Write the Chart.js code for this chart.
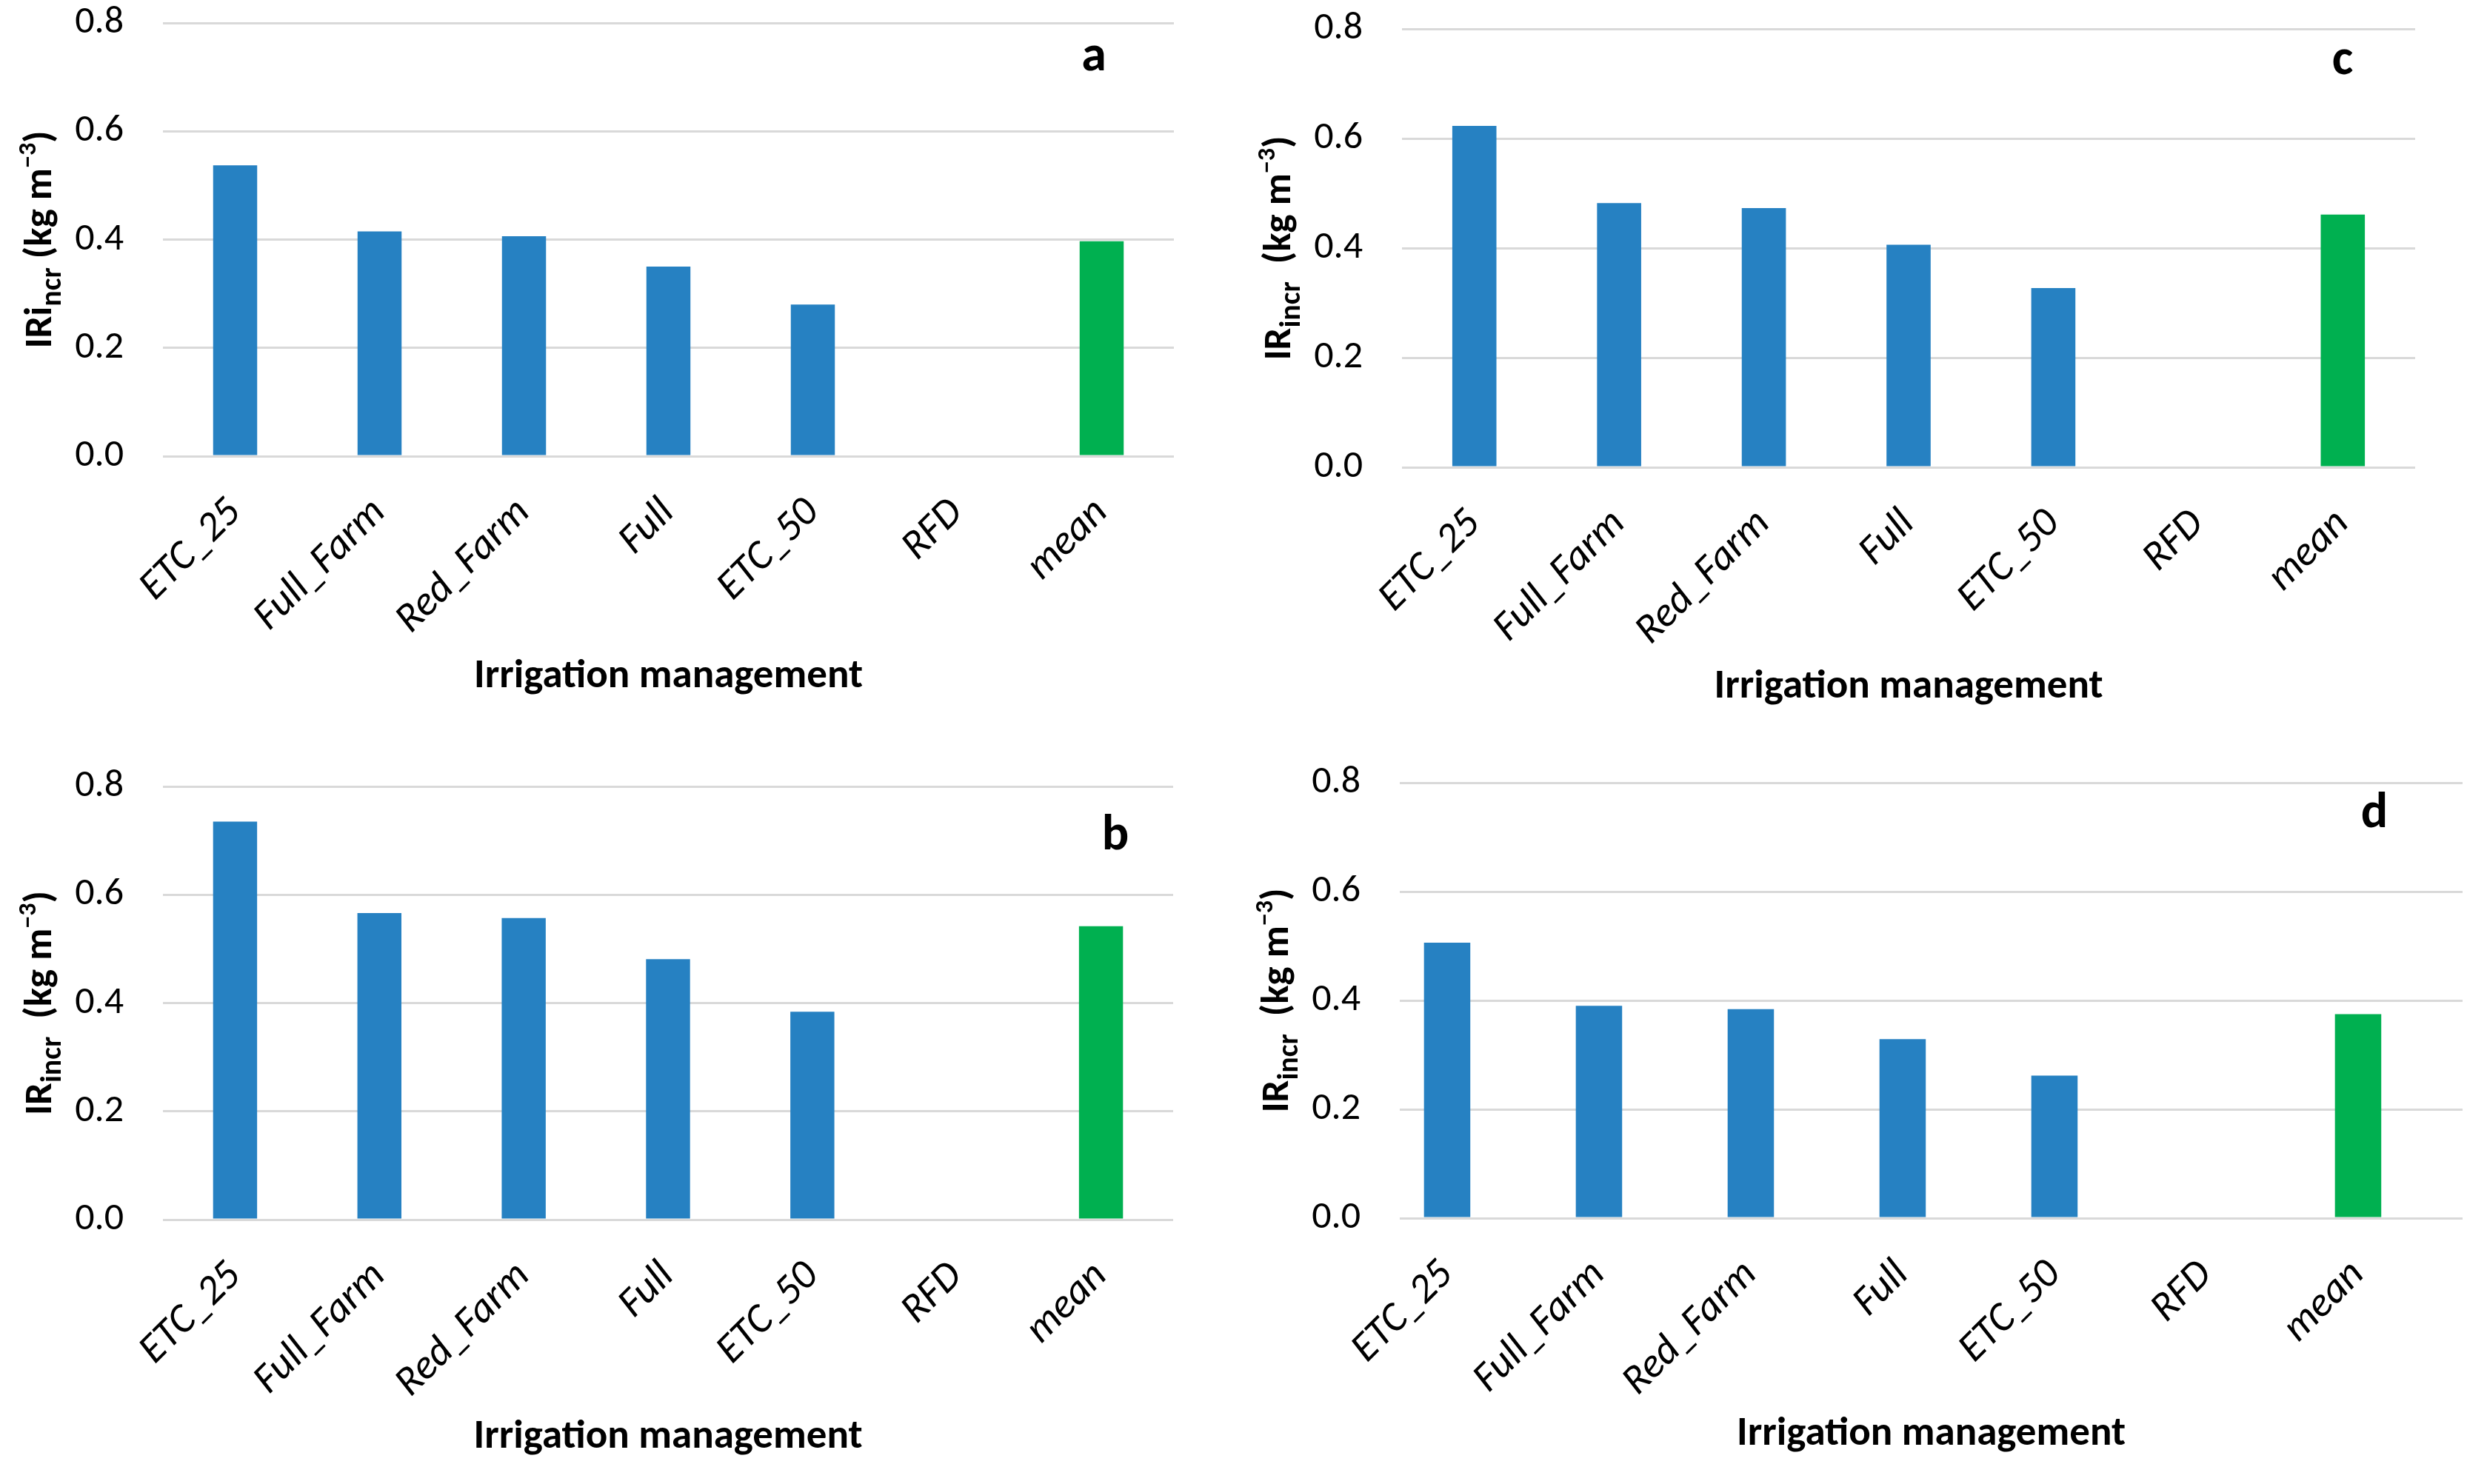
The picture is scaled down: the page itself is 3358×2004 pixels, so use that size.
<!DOCTYPE html>
<html>
<head>
<meta charset="utf-8">
<script src="https://cdn.jsdelivr.net/npm/chart.js@4.4.1/dist/chart.umd.min.js"></script>
<style>
body{margin:0;background:#fff;width:3358px;height:2004px;position:relative;overflow:hidden}
.panel{position:absolute}
</style>
</head>
<body>
<div class="panel" id="box_a"><canvas id="chart_a"></canvas></div>
<div class="panel" id="box_b"><canvas id="chart_b"></canvas></div>
<div class="panel" id="box_c"><canvas id="chart_c"></canvas></div>
<div class="panel" id="box_d"><canvas id="chart_d"></canvas></div>
<script>
// data
const categories = ["ETC_25","Full_Farm","Red_Farm","Full","ETC_50","RFD","mean"]
const valuesA = [0.537,0.415,0.406,0.350,0.280,0,0.397]
const valuesB = [0.735,0.566,0.557,0.481,0.384,0,0.542]
const valuesC = [0.623,0.482,0.473,0.406,0.327,0,0.461]
const valuesD = [0.506,0.390,0.384,0.329,0.262,0,0.375]
const yMin = 0
const yMax = 0.8
const yStep = 0.2
const xTitle = "Irrigation management"

const BLUE = "#2681c2"
const GREEN = "#00b050"
const barColors = categories.map(c => c === "mean" ? GREEN : BLUE)

const FONT = "Carlito, 'Liberation Sans Narrow', 'Open Sans', sans-serif"
const FS = 52

// y title pieces: [text, kind]
const yTitleA = [["IRi","n"],["ncr","sub"],[" (kg m","n"],["\u22123","sup"],[")","n"]]
const yTitleB = [["IR","n"],["incr","sub"],["  (kg m","n"],["\u22123","sup"],[")","n"]]

// panel placement (chart area in page pixels); shift moves the category window
const panels = [
  {key:"a", values:valuesA, yTitle:yTitleA, L:220, T:31, R:1585, B:616, shift:0, titleOff:298, letterDx:-108, letterBase:64},
  {key:"c", values:valuesC, yTitle:yTitleB, L:1893, T:39, R:3261, B:631, shift:0, titleOff:297, letterDx:-98, letterBase:61},
  {key:"b", values:valuesB, yTitle:yTitleB, L:220, T:1062, R:1584, B:1647, shift:0, titleOff:294, letterDx:-78, letterBase:85},
  {key:"d", values:valuesD, yTitle:yTitleB, L:1890, T:1057, R:3325, B:1645, shift:0.188, titleOff:292, letterDx:-119, letterBase:60}
]

const TOP_PAD = 40
const X_H = 340

const extras = {
  id:"extras",
  afterDraw(chart, args, opts){
    const ctx = chart.ctx
    const area = chart.chartArea
    ctx.save()
    // y axis title with sub / superscript
    ctx.translate(area.left - 164, (area.top + area.bottom)/2)
    ctx.rotate(-Math.PI/2)
    ctx.fillStyle = "#000"
    ctx.textBaseline = "middle"
    ctx.textAlign = "left"
    const fs = 53
    let total = 0
    const parts = opts.yTitle.map(p => {
      let size = fs
      if(p[1] === "sub") size = Math.round(fs*0.75)
      if(p[1] === "sup") size = Math.round(fs*0.65)
      ctx.font = "bold " + size + "px " + FONT
      const w = ctx.measureText(p[0]).width
      total += w
      return {t:p[0], k:p[1], font:ctx.font, w:w}
    })
    let x = -total/2
    parts.forEach(p => {
      ctx.font = p.font
      let dy = 0
      if(p.k === "sub") dy = fs*0.3
      if(p.k === "sup") dy = -fs*0.32
      ctx.fillText(p.t, x, dy)
      x += p.w
    })
    ctx.restore()

    // panel letter
    ctx.save()
    ctx.font = "bold 68px " + FONT
    ctx.fillStyle = "#000"
    ctx.textAlign = "center"
    ctx.textBaseline = "alphabetic"
    ctx.fillText(opts.letter, area.right + opts.letterDx, area.top + opts.letterBase)
    ctx.restore()
  }
}

panels.forEach(p => {
  const box = document.getElementById("box_" + p.key)
  box.style.left = (p.L - 220) + "px"
  box.style.top = (p.T - TOP_PAD) + "px"
  box.style.width = (p.R - p.L + 250) + "px"
  box.style.height = (p.B - p.T + TOP_PAD + X_H) + "px"

  const titleFont = {family:FONT, size:55, weight:"bold"}
  const lh = 55*1.2

  new Chart(document.getElementById("chart_" + p.key), {
    type:"bar",
    data:{
      datasets:[{
        data:p.values.map((v,i) => ({x:i, y:v})),
        backgroundColor:barColors,
        borderWidth:0,
        categoryPercentage:1,
        barPercentage:0.305
      }]
    },
    plugins:[extras],
    options:{
      responsive:true,
      maintainAspectRatio:false,
      animation:false,
      devicePixelRatio:1,
      layout:{padding:{left:0, top:TOP_PAD, right:30, bottom:0}},
      plugins:{
        legend:{display:false},
        tooltip:{enabled:false},
        extras:{yTitle:p.yTitle, letter:p.key, letterDx:p.letterDx, letterBase:p.letterBase}
      },
      scales:{
        x:{
          type:"linear",
          offset:false,
          min:-0.5 + p.shift,
          max:categories.length - 0.5 + p.shift,
          grid:{display:false, drawTicks:false},
          border:{display:false},
          afterBuildTicks(s){ s.ticks = categories.map((c,i) => ({value:i})) },
          ticks:{
            autoSkip:false,
            maxRotation:45,
            minRotation:45,
            padding:44,
            color:"#000",
            font:{family:FONT, size:56, style:"italic"},
            callback:v => categories[v]
          },
          title:{
            display:true,
            text:xTitle,
            color:"#000",
            font:titleFont,
            padding:{top:0, bottom:X_H - p.titleOff - lh/2}
          },
          afterFit(s){ s.height = X_H }
        },
        y:{
          min:yMin,
          max:yMax,
          ticks:{
            stepSize:yStep,
            padding:0,
            color:"#000",
            font:{family:FONT, size:FS},
            callback:v => v.toFixed(1)
          },
          grid:{color:"#d9d9d9", lineWidth:3, drawTicks:true, tickLength:53, tickColor:"rgba(0,0,0,0)"},
          border:{display:false},
          afterFit(s){ s.width = 220 }
        }
      }
    }
  })
})
</script>
</body>
</html>
